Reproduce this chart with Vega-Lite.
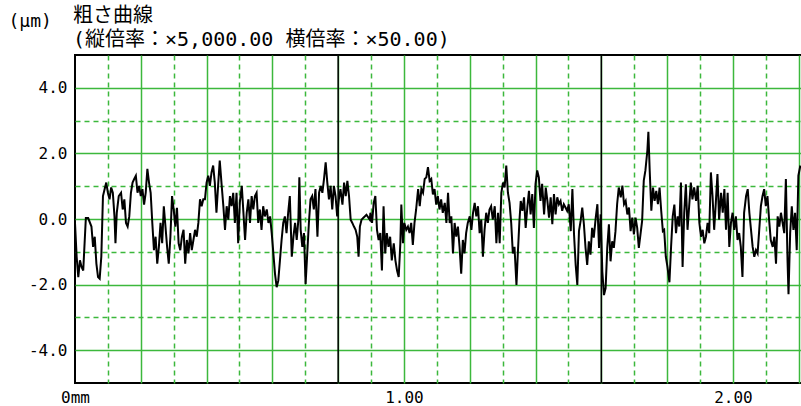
{
  "$schema": "https://vega.github.io/schema/vega-lite/v6.json",
  "width": 727,
  "height": 328,
  "autosize": {"type": "none"},
  "padding": {"left": 75, "top": 55, "right": 0, "bottom": 23},
  "background": "white",
  "config": {"view": {"stroke": "black", "strokeWidth": 2}},
  "title": {
    "text": "粗さ曲線",
    "subtitle": "(縦倍率：×5,000.00 横倍率：×50.00)",
    "anchor": "start",
    "frame": "group",
    "font": "DejaVu Sans Mono, Noto Sans CJK JP",
    "fontSize": 20,
    "fontWeight": "normal",
    "color": "#000000",
    "subtitleFont": "DejaVu Sans Mono, Noto Sans CJK JP",
    "subtitleFontSize": 20,
    "subtitleColor": "#000000",
    "subtitlePadding": 4,
    "offset": 4,
    "dx": -2,
    "dy": 42
  },
  "data": {"values": [
    {"x":0.000,"y":-0.12},{"x":0.005,"y":-1.15},{"x":0.010,"y":-1.77},{"x":0.015,"y":-1.26},{"x":0.020,"y":-1.46},{"x":0.025,"y":-1.57},{"x":0.033,"y":0.03},{"x":0.040,"y":0.03},{"x":0.050,"y":-0.23},{"x":0.055,"y":-0.85},{"x":0.060,"y":-0.54},{"x":0.065,"y":-1.36},{"x":0.070,"y":-1.77},{"x":0.075,"y":-1.82},{"x":0.080,"y":-1.15},{"x":0.085,"y":0.70},{"x":0.090,"y":0.91},{"x":0.095,"y":1.11},{"x":0.100,"y":0.80},{"x":0.105,"y":0.60},{"x":0.110,"y":0.96},{"x":0.115,"y":0.80},{"x":0.120,"y":0.08},{"x":0.123,"y":-0.74},{"x":0.127,"y":0.19},{"x":0.133,"y":0.70},{"x":0.140,"y":0.80},{"x":0.145,"y":0.29},{"x":0.150,"y":0.60},{"x":0.155,"y":-0.12},{"x":0.160,"y":-0.23},{"x":0.165,"y":0.08},{"x":0.170,"y":0.80},{"x":0.175,"y":1.11},{"x":0.180,"y":1.22},{"x":0.185,"y":1.32},{"x":0.190,"y":0.80},{"x":0.195,"y":1.01},{"x":0.200,"y":0.70},{"x":0.205,"y":0.91},{"x":0.210,"y":0.44},{"x":0.215,"y":0.80},{"x":0.220,"y":1.53},{"x":0.225,"y":1.11},{"x":0.230,"y":0.80},{"x":0.235,"y":-0.12},{"x":0.240,"y":-0.95},{"x":0.245,"y":-0.54},{"x":0.250,"y":-1.36},{"x":0.255,"y":-0.85},{"x":0.260,"y":-0.12},{"x":0.265,"y":-0.74},{"x":0.270,"y":0.39},{"x":0.275,"y":-0.23},{"x":0.280,"y":-0.85},{"x":0.285,"y":-1.36},{"x":0.290,"y":-0.54},{"x":0.295,"y":0.70},{"x":0.300,"y":0.29},{"x":0.305,"y":-0.23},{"x":0.310,"y":0.34},{"x":0.315,"y":-0.74},{"x":0.320,"y":-0.95},{"x":0.325,"y":-0.54},{"x":0.330,"y":-0.33},{"x":0.335,"y":-1.36},{"x":0.340,"y":-0.64},{"x":0.345,"y":-1.05},{"x":0.350,"y":-0.43},{"x":0.355,"y":-0.95},{"x":0.360,"y":-0.64},{"x":0.365,"y":-0.33},{"x":0.370,"y":-0.54},{"x":0.375,"y":-0.12},{"x":0.380,"y":0.60},{"x":0.385,"y":0.39},{"x":0.390,"y":0.60},{"x":0.395,"y":0.60},{"x":0.400,"y":1.11},{"x":0.405,"y":1.32},{"x":0.410,"y":1.01},{"x":0.415,"y":1.42},{"x":0.420,"y":1.63},{"x":0.425,"y":1.11},{"x":0.430,"y":0.19},{"x":0.435,"y":1.01},{"x":0.440,"y":1.78},
    {"x":0.446,"y":1.01},{"x":0.451,"y":0.39},{"x":0.456,"y":-0.33},{"x":0.461,"y":0.39},{"x":0.466,"y":-0.02},{"x":0.471,"y":0.70},{"x":0.476,"y":0.39},{"x":0.481,"y":0.80},{"x":0.486,"y":-0.12},{"x":0.491,"y":0.80},{"x":0.496,"y":-0.74},{"x":0.501,"y":0.49},{"x":0.507,"y":1.01},{"x":0.512,"y":0.19},{"x":0.517,"y":-0.64},{"x":0.522,"y":0.19},{"x":0.527,"y":0.60},{"x":0.532,"y":-0.12},{"x":0.537,"y":0.70},{"x":0.542,"y":0.29},{"x":0.547,"y":0.70},{"x":0.552,"y":0.80},{"x":0.557,"y":-0.12},{"x":0.562,"y":0.29},{"x":0.567,"y":-0.33},{"x":0.572,"y":0.39},{"x":0.577,"y":0.08},{"x":0.583,"y":0.29},{"x":0.588,"y":-0.12},{"x":0.593,"y":0.08},{"x":0.598,"y":-0.43},{"x":0.603,"y":-1.05},{"x":0.608,"y":-1.67},{"x":0.613,"y":-2.08},{"x":0.618,"y":-1.88},{"x":0.623,"y":-1.26},{"x":0.628,"y":-0.64},{"x":0.633,"y":-0.12},{"x":0.638,"y":0.08},{"x":0.643,"y":-0.43},{"x":0.648,"y":0.19},{"x":0.653,"y":0.70},{"x":0.659,"y":-1.15},{"x":0.664,"y":-0.54},{"x":0.669,"y":-0.12},{"x":0.674,"y":-0.64},{"x":0.679,"y":-0.02},{"x":0.682,"y":1.27},{"x":0.686,"y":-0.33},{"x":0.691,"y":-0.85},{"x":0.696,"y":-0.43},{"x":0.701,"y":-1.98},{"x":0.706,"y":-1.05},{"x":0.711,"y":-0.12},{"x":0.716,"y":0.60},{"x":0.721,"y":0.70},{"x":0.726,"y":0.29},{"x":0.731,"y":0.91},{"x":0.737,"y":-0.54},{"x":0.742,"y":0.80},{"x":0.747,"y":1.01},{"x":0.752,"y":0.80},{"x":0.757,"y":1.22},{"x":0.762,"y":1.73},{"x":0.767,"y":1.11},{"x":0.772,"y":0.60},{"x":0.777,"y":1.01},{"x":0.782,"y":0.29},{"x":0.787,"y":1.01},{"x":0.792,"y":0.70},{"x":0.797,"y":0.08},{"x":0.802,"y":0.60},{"x":0.807,"y":0.91},{"x":0.813,"y":0.44},{"x":0.818,"y":1.11},{"x":0.823,"y":0.70},{"x":0.828,"y":1.16},{"x":0.833,"y":0.70},{"x":0.838,"y":-0.02},{"x":0.843,"y":-0.12},{"x":0.848,"y":-0.23},{"x":0.853,"y":-0.33},{"x":0.858,"y":-0.54},{"x":0.862,"y":-1.15},{"x":0.866,"y":-0.23},{"x":0.871,"y":-0.02},{"x":0.876,"y":0.03},{"x":0.886,"y":0.13},{"x":0.896,"y":-0.02},
    {"x":0.898,"y":0.19},{"x":0.903,"y":-0.12},{"x":0.908,"y":0.49},{"x":0.913,"y":0.70},{"x":0.918,"y":-0.33},{"x":0.923,"y":-0.64},{"x":0.928,"y":-0.43},{"x":0.933,"y":-1.57},{"x":0.938,"y":0.39},{"x":0.943,"y":-1.05},{"x":0.948,"y":-0.43},{"x":0.953,"y":-0.85},{"x":0.958,"y":-0.54},{"x":0.963,"y":-1.26},{"x":0.969,"y":-0.74},{"x":0.974,"y":-1.26},{"x":0.979,"y":-1.57},{"x":0.984,"y":-1.77},{"x":0.989,"y":-0.74},{"x":0.992,"y":0.44},{"x":0.997,"y":-0.74},{"x":1.001,"y":-0.12},{"x":1.007,"y":-0.33},{"x":1.012,"y":-0.23},{"x":1.017,"y":-0.43},{"x":1.022,"y":-0.12},{"x":1.027,"y":-0.79},{"x":1.032,"y":-0.12},{"x":1.037,"y":0.29},{"x":1.043,"y":0.91},{"x":1.048,"y":0.39},{"x":1.053,"y":0.91},{"x":1.058,"y":0.80},{"x":1.063,"y":1.22},{"x":1.068,"y":1.27},{"x":1.073,"y":1.58},{"x":1.078,"y":1.16},{"x":1.083,"y":1.22},{"x":1.088,"y":0.75},{"x":1.093,"y":0.91},{"x":1.098,"y":0.44},{"x":1.103,"y":0.70},{"x":1.108,"y":0.29},{"x":1.113,"y":0.60},{"x":1.118,"y":0.19},{"x":1.124,"y":0.49},{"x":1.129,"y":-0.12},{"x":1.134,"y":0.80},{"x":1.139,"y":-0.12},{"x":1.144,"y":0.08},{"x":1.149,"y":-1.05},{"x":1.154,"y":-0.12},{"x":1.159,"y":-0.54},{"x":1.164,"y":-0.23},{"x":1.169,"y":-0.85},{"x":1.174,"y":-1.67},{"x":1.179,"y":-0.64},{"x":1.184,"y":-1.05},{"x":1.189,"y":-0.43},{"x":1.194,"y":-0.12},{"x":1.200,"y":0.08},{"x":1.205,"y":-0.33},{"x":1.210,"y":0.19},{"x":1.215,"y":0.49},{"x":1.220,"y":0.08},{"x":1.225,"y":0.39},{"x":1.230,"y":-0.43},{"x":1.235,"y":-0.02},{"x":1.240,"y":-1.15},{"x":1.245,"y":-0.33},{"x":1.250,"y":0.19},{"x":1.255,"y":-0.12},{"x":1.260,"y":0.29},{"x":1.265,"y":0.39},{"x":1.270,"y":-0.02},{"x":1.276,"y":0.39},{"x":1.281,"y":-0.74},{"x":1.286,"y":0.19},{"x":1.291,"y":-0.74},{"x":1.296,"y":0.80},{"x":1.301,"y":1.11},{"x":1.306,"y":0.96},{"x":1.311,"y":1.63},{"x":1.316,"y":0.80},{"x":1.321,"y":0.49},{"x":1.326,"y":-0.12},{"x":1.331,"y":-1.05},{"x":1.336,"y":-0.85},
    {"x":1.342,"y":-2.01},{"x":1.346,"y":-1.09},{"x":1.351,"y":-0.06},{"x":1.355,"y":0.55},{"x":1.360,"y":0.25},{"x":1.365,"y":0.66},{"x":1.370,"y":-0.27},{"x":1.375,"y":0.35},{"x":1.380,"y":0.86},{"x":1.385,"y":0.14},{"x":1.390,"y":0.76},{"x":1.395,"y":-0.27},{"x":1.400,"y":1.07},{"x":1.405,"y":1.48},{"x":1.410,"y":1.27},{"x":1.415,"y":0.55},{"x":1.420,"y":1.07},{"x":1.426,"y":0.14},{"x":1.431,"y":0.96},{"x":1.436,"y":0.55},{"x":1.441,"y":0.04},{"x":1.446,"y":0.66},{"x":1.451,"y":-0.16},{"x":1.456,"y":0.76},{"x":1.461,"y":0.14},{"x":1.466,"y":0.66},{"x":1.471,"y":0.45},{"x":1.476,"y":0.55},{"x":1.481,"y":0.25},{"x":1.486,"y":0.45},{"x":1.491,"y":0.35},{"x":1.496,"y":0.25},{"x":1.501,"y":0.45},{"x":1.507,"y":-0.37},{"x":1.512,"y":0.91},{"x":1.517,"y":-0.47},{"x":1.522,"y":-1.40},{"x":1.527,"y":-2.01},{"x":1.532,"y":-0.37},{"x":1.537,"y":-0.06},{"x":1.542,"y":0.35},{"x":1.547,"y":-0.16},{"x":1.552,"y":-0.88},{"x":1.557,"y":-1.40},{"x":1.562,"y":-0.68},{"x":1.567,"y":-1.09},{"x":1.572,"y":-0.27},{"x":1.577,"y":-0.57},{"x":1.583,"y":0.04},{"x":1.588,"y":0.45},{"x":1.593,"y":-0.88},{"x":1.598,"y":0.14},{"x":1.603,"y":-1.60},{"x":1.608,"y":-2.32},{"x":1.613,"y":-2.11},{"x":1.618,"y":-0.88},{"x":1.623,"y":-0.16},{"x":1.628,"y":-1.29},{"x":1.633,"y":-0.68},{"x":1.638,"y":-0.88},{"x":1.643,"y":-0.37},{"x":1.648,"y":0.45},{"x":1.653,"y":0.96},{"x":1.659,"y":0.66},{"x":1.664,"y":1.02},{"x":1.669,"y":0.45},{"x":1.674,"y":0.55},{"x":1.679,"y":0.14},{"x":1.684,"y":0.35},{"x":1.689,"y":-0.37},{"x":1.694,"y":0.04},{"x":1.699,"y":-0.47},{"x":1.704,"y":0.04},{"x":1.709,"y":-0.27},{"x":1.714,"y":-0.88},{"x":1.719,"y":-0.47},{"x":1.724,"y":-0.06},{"x":1.729,"y":1.17},{"x":1.734,"y":1.48},{"x":1.740,"y":2.09},{"x":1.743,"y":2.66},{"x":1.747,"y":1.48},{"x":1.752,"y":0.25},{"x":1.757,"y":0.96},{"x":1.762,"y":0.55},{"x":1.767,"y":0.86},{"x":1.772,"y":0.45},{"x":1.777,"y":0.96},{"x":1.782,"y":0.25},{"x":1.787,"y":-0.37},
    {"x":1.791,"y":-0.33},{"x":1.796,"y":-1.15},{"x":1.801,"y":-1.46},{"x":1.807,"y":-1.93},{"x":1.812,"y":-0.85},{"x":1.817,"y":0.08},{"x":1.822,"y":0.44},{"x":1.827,"y":-0.43},{"x":1.832,"y":0.08},{"x":1.837,"y":-0.23},{"x":1.842,"y":1.11},{"x":1.847,"y":-1.46},{"x":1.852,"y":0.19},{"x":1.857,"y":1.06},{"x":1.862,"y":-0.33},{"x":1.867,"y":0.39},{"x":1.872,"y":1.11},{"x":1.877,"y":0.60},{"x":1.882,"y":0.96},{"x":1.888,"y":0.55},{"x":1.893,"y":1.01},{"x":1.898,"y":-0.12},{"x":1.903,"y":-0.54},{"x":1.908,"y":-0.33},{"x":1.913,"y":-0.74},{"x":1.918,"y":-0.54},{"x":1.923,"y":-0.12},{"x":1.928,"y":-0.43},{"x":1.933,"y":1.42},{"x":1.938,"y":0.70},{"x":1.943,"y":-0.33},{"x":1.948,"y":0.49},{"x":1.953,"y":1.37},{"x":1.958,"y":-0.02},{"x":1.964,"y":0.80},{"x":1.969,"y":0.19},{"x":1.974,"y":0.91},{"x":1.979,"y":-0.33},{"x":1.984,"y":0.80},{"x":1.989,"y":-0.85},{"x":1.994,"y":-0.12},{"x":1.999,"y":0.19},{"x":2.004,"y":-0.33},{"x":2.009,"y":0.08},{"x":2.014,"y":-0.64},{"x":2.019,"y":-0.43},{"x":2.024,"y":-0.85},{"x":2.029,"y":-1.77},{"x":2.034,"y":0.19},{"x":2.040,"y":0.70},{"x":2.045,"y":0.91},{"x":2.050,"y":0.19},{"x":2.055,"y":-0.33},{"x":2.060,"y":-0.85},{"x":2.065,"y":-1.15},{"x":2.070,"y":-0.95},{"x":2.075,"y":-1.05},{"x":2.080,"y":-0.33},{"x":2.085,"y":0.39},{"x":2.090,"y":0.70},{"x":2.095,"y":0.91},{"x":2.100,"y":0.39},{"x":2.105,"y":0.70},{"x":2.110,"y":-0.02},{"x":2.115,"y":-0.64},{"x":2.121,"y":-0.85},{"x":2.126,"y":-0.54},{"x":2.131,"y":-1.36},{"x":2.136,"y":0.08},{"x":2.141,"y":-0.23},{"x":2.146,"y":0.19},{"x":2.151,"y":-0.12},{"x":2.156,"y":-0.43},{"x":2.161,"y":1.22},{"x":2.166,"y":-1.26},{"x":2.169,"y":-2.29},{"x":2.174,"y":-0.43},{"x":2.179,"y":0.39},{"x":2.184,"y":-0.33},{"x":2.189,"y":0.19},{"x":2.194,"y":-0.95},{"x":2.199,"y":1.32},{"x":2.205,"y":1.63}
  ]},
  "encoding": {
    "x": {
      "field": "x", "type": "quantitative",
      "scale": {"domain": [0, 2.21], "nice": false, "zero": false},
      "axis": {
        "title": null,
        "values": [0,0.1,0.2,0.3,0.4,0.5,0.6,0.7,0.8,0.9,1,1.1,1.2,1.3,1.4,1.5,1.6,1.7,1.8,1.9,2,2.1,2.2],
        "labelExpr": "datum.value == 0 ? '0mm' : (datum.value == 1 ? '1.00' : (datum.value == 2 ? '2.00' : ''))",
        "labelFont": "DejaVu Sans Mono",
        "labelFontSize": 16,
        "labelColor": "#000000",
        "labelPadding": 6,
        "labelFlush": false,
        "labelOverlap": false,
        "ticks": false,
        "domain": false,
        "grid": true,
        "gridColor": "#3cb83c",
        "gridWidth": 1.5,
        "gridOpacity": {"condition": {"test": "datum.value == 0", "value": 0}, "value": 1},
        "gridDash": {"condition": {"test": "round(datum.value * 10) % 2 == 1", "value": [5, 4]}, "value": []}
      }
    }
  },
  "layer": [
    {
      "data": {"values": [{"x": 0.8}, {"x": 1.6}]},
      "mark": {"type": "rule", "color": "#000000", "strokeWidth": 1.5}
    },
    {
      "mark": {"type": "line", "color": "#000000", "strokeWidth": 2, "clip": true},
      "encoding": {
        "y": {
          "field": "y", "type": "quantitative",
          "scale": {"domain": [-5, 5], "nice": false, "zero": false},
          "axis": {
            "title": "(μm)",
            "titleAngle": 0,
            "titleAlign": "left",
            "titleBaseline": "alphabetic",
            "titleX": -67,
            "titleY": -29,
            "titleFont": "DejaVu Sans Mono, Noto Sans CJK JP",
            "titleFontSize": 18,
            "titleFontWeight": "normal",
            "titleColor": "#000000",
            "values": [-4,-3,-2,-1,0,1,2,3,4],
            "labelExpr": "abs(datum.value) % 2 == 1 ? '' : (datum.value < 0 ? '-' : '') + format(abs(datum.value), '.1f')",
            "labelFont": "DejaVu Sans Mono",
            "labelFontSize": 16,
            "labelColor": "#000000",
            "labelPadding": 8,
            "labelOverlap": false,
            "ticks": false,
            "domain": false,
            "grid": true,
            "gridColor": "#3cb83c",
            "gridWidth": 1.5,
            "gridDash": {"condition": {"test": "abs(datum.value) % 2 == 1", "value": [5, 4]}, "value": []}
          }
        }
      }
    }
  ]
}
